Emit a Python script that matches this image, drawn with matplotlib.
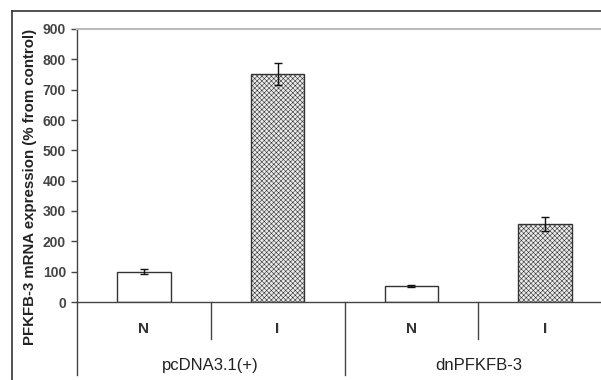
import matplotlib
matplotlib.use("Agg")
import matplotlib.pyplot as plt
from matplotlib.lines import Line2D

plt.rcParams['font.family'] = ['Liberation Sans', 'DejaVu Sans']
plt.rcParams['hatch.color'] = '#bcbcbc'
plt.rcParams['hatch.linewidth'] = 0.4

conditions = ["N", "I", "N", "I"]
groups = ["pcDNA3.1(+)", "dnPFKFB-3"]
values = [100, 752, 52, 257]
errors = [8, 35, 3, 23]
yticks = [0, 100, 200, 300, 400, 500, 600, 700, 800, 900]

W, H = 601, 380
fig = plt.figure(figsize=(W / 100, H / 100), dpi=100)
ax = fig.add_axes([77 / W, (H - 302) / H, 535 / W, 273 / H])

xs = [i + 0.5 for i in range(len(values))]
for i, (x, v, e) in enumerate(zip(xs, values, errors)):
    if conditions[i] == "N":
        ax.bar(x, v, width=0.4, facecolor='white', edgecolor='#333333', linewidth=1.0, zorder=2)
    else:
        ax.bar(x, v, width=0.4, facecolor='#ebebeb', edgecolor='#333333', linewidth=1.0,
               hatch='xxxxxxx', zorder=2)
    ax.errorbar(x, v, yerr=e, fmt='none', ecolor='#111111', elinewidth=1.0,
                capsize=3, capthick=1.0, zorder=3)

ax.set_xlim(0, 4)
ax.set_ylim(0, 900)
ax.set_yticks(yticks)
ax.set_yticklabels([str(t) for t in yticks], fontsize=10, fontweight='bold', color='#444444')
ax.tick_params(axis='y', direction='out', length=4, width=1, color='#444444', pad=4)
ax.set_xticks([])
ax.spines['right'].set_visible(False)
ax.spines['top'].set_color('#bbbbbb')
ax.spines['top'].set_linewidth(1.5)
ax.spines['left'].set_color('#444444')
ax.spines['bottom'].set_color('#444444')
ax.spines['left'].set_linewidth(1.0)
ax.spines['bottom'].set_linewidth(1.0)

tr = ax.get_xaxis_transform()
# extension of y axis and separators below axis
ax.plot([0, 0], [0, -0.267], transform=tr, color='#444444', lw=1.0, clip_on=False)
for sx in [1, 3]:
    ax.plot([sx, sx], [0, -0.1355], transform=tr, color='#444444', lw=1.0, clip_on=False)
ax.plot([2, 2], [0, -0.267], transform=tr, color='#444444', lw=1.0, clip_on=False)

for x, c in zip(xs, conditions):
    ax.text(x, -0.099, c, transform=tr, ha='center', va='center', fontsize=11,
            fontweight='bold', color='#333333')
for gi, g in enumerate(groups):
    ax.text(gi * 2 + 1, -0.231, g, transform=tr, ha='center', va='center', fontsize=12,
            color='#222222')

fig.text(30 / W, 1 - 187 / H, "PFKFB-3 mRNA expression (% from control)", rotation=90,
         ha='center', va='center', fontsize=10.8, fontweight='bold', color='#222222')

# outer frame lines
fig.add_artist(Line2D([12 / W, 1.0], [1 - 11 / H, 1 - 11 / H], color='#333333', lw=1.2,
                      transform=fig.transFigure))
fig.add_artist(Line2D([12 / W, 12 / W], [0, 1 - 11 / H], color='#333333', lw=1.2,
                      transform=fig.transFigure))

fig.savefig("out.png", dpi=100)
